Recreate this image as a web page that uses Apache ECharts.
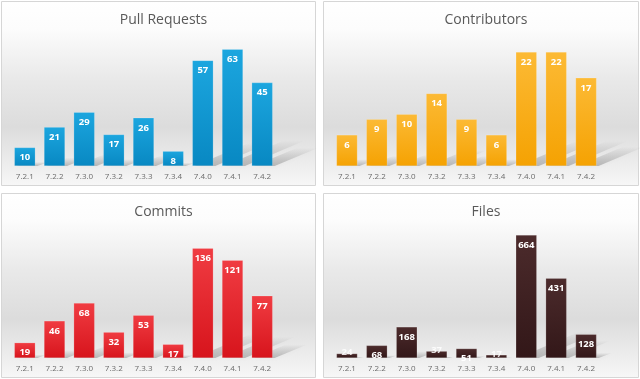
<!DOCTYPE html>
<html>
<head>
<meta charset="utf-8">
<script src="https://cdn.jsdelivr.net/npm/echarts@6/dist/echarts.min.js"></script>
<style>html,body{margin:0;padding:0;background:#fff;}#c{width:640px;height:379px;}</style>
</head>
<body>
<div id="c"></div>
<script>
const categories = ['7.2.1','7.2.2','7.3.0','7.3.2','7.3.3','7.3.4','7.4.0','7.4.1','7.4.2'];
const pullRequests = [10, 21, 29, 17, 26, 8, 57, 63, 45];
const contributors = [6, 9, 10, 14, 9, 6, 22, 22, 17];
const commits = [19, 46, 68, 32, 53, 17, 136, 121, 77];
const files = [24, 68, 168, 37, 51, 17, 664, 431, 128];
const titles = ['Pull Requests', 'Contributors', 'Commits', 'Files'];

const panels = [
  {data: pullRequests, title: titles[0], box: [1, 1, 315, 185], grid: {left: 10, top: 40, width: 267, height: 126}, max: 68, c1: '#1ca6df', c2: '#0888c2'},
  {data: contributors, title: titles[1], box: [323, 1, 316, 185], grid: {left: 332, top: 40, width: 269, height: 126}, max: 24.3, c1: '#fcba35', c2: '#f5a202'},
  {data: commits, title: titles[2], box: [1, 193, 315, 185], grid: {left: 10, top: 232, width: 267, height: 126}, max: 156, c1: '#f03c42', c2: '#d7141c'},
  {data: files, title: titles[3], box: [323, 193, 316, 185], grid: {left: 332, top: 232, width: 269, height: 126}, max: 680, c1: '#4c2b2c', c2: '#321718'}
];

const chart = echarts.init(document.getElementById('c'), null, {renderer: 'canvas'});
const grids = [], xAxes = [], yAxes = [], series = [], titleOpts = [], graphics = [];

panels.forEach((p, i) => {
  const [bx, by, bw, bh] = p.box;
  graphics.push({
    type: 'rect', z: -10, silent: true,
    shape: {x: bx + 0.5, y: by + 0.5, width: bw - 1, height: bh - 1},
    style: {
      fill: new echarts.graphic.LinearGradient(0, 0, 0, 1, [
        {offset: 0, color: '#ffffff'},
        {offset: 0.15, color: '#fcfcfc'},
        {offset: 0.42, color: '#e9e9e9'},
        {offset: 0.68, color: '#dcdcdc'},
        {offset: 0.86, color: '#ebebeb'},
        {offset: 1, color: '#f7f7f7'}
      ]),
      stroke: '#d6d6d6', lineWidth: 1
    }
  });
  titleOpts.push({
    text: p.title, left: bx + bw / 2, top: by + 7, textAlign: 'center',
    textStyle: {fontFamily: 'Open Sans', fontSize: 14, fontWeight: 'normal', color: '#595959'}
  });
  grids.push(p.grid);
  xAxes.push({
    type: 'category', gridIndex: i, data: categories,
    axisLine: {show: false}, axisTick: {show: false},
    axisLabel: {color: '#6b6b6b', fontSize: 8, fontFamily: 'Open Sans', margin: 7}
  });
  yAxes.push({type: 'value', gridIndex: i, min: 0, max: p.max, show: false, splitLine: {show: false}});
  const maxV = Math.max(...p.data);
  // floor shadows
  series.push({
    type: 'custom', xAxisIndex: i, yAxisIndex: i, z: 1, silent: true,
    data: p.data.map((v, k) => [k, v]),
    renderItem: function (params, api) {
      const top = api.coord([api.value(0), api.value(1)]);
      const base = api.coord([api.value(0), 0]);
      const h = base[1] - top[1];
      const w = 21;
      const xl = base[0] - w / 2, xr = base[0] + w / 2;
      const dy = h * 0.22, dx = h * 0.5;
      return {
        type: 'polygon',
        shape: {points: [[xl + 2, base[1]], [xr + 2, base[1]], [xr + dx + 4, base[1] - dy], [xl + dx + 4, base[1] - dy]]},
        style: {
          fill: new echarts.graphic.LinearGradient(0, 1, 0, 0, [
            {offset: 0, color: 'rgba(0,0,0,0.22)'},
            {offset: 1, color: 'rgba(0,0,0,0.0)'}
          ]),
          shadowBlur: 4, shadowColor: 'rgba(0,0,0,0.15)'
        }
      };
    }
  });
  series.push({
    type: 'bar', xAxisIndex: i, yAxisIndex: i, z: 3, barWidth: 21,
    data: p.data.map(v => {
      const small = v < maxV * 0.06;
      return {
        value: v,
        label: small ? {position: 'top', distance: -4, color: 'rgba(255,255,255,0.85)'} : {}
      };
    }),
    itemStyle: {
      color: new echarts.graphic.LinearGradient(0, 0, 0, 1, [
        {offset: 0, color: p.c1}, {offset: 1, color: p.c2}
      ]),
      borderColor: 'rgba(255,255,255,0.35)', borderWidth: 0.5
    },
    label: {
      show: true, position: 'insideTop', distance: 5,
      color: '#ffffff', fontWeight: 'bold', fontSize: 9.5, fontFamily: 'Open Sans'
    }
  });
});

chart.setOption({
  animation: false,
  title: titleOpts,
  grid: grids,
  xAxis: xAxes,
  yAxis: yAxes,
  series: series,
  graphic: graphics
});
</script>
</body>
</html>
